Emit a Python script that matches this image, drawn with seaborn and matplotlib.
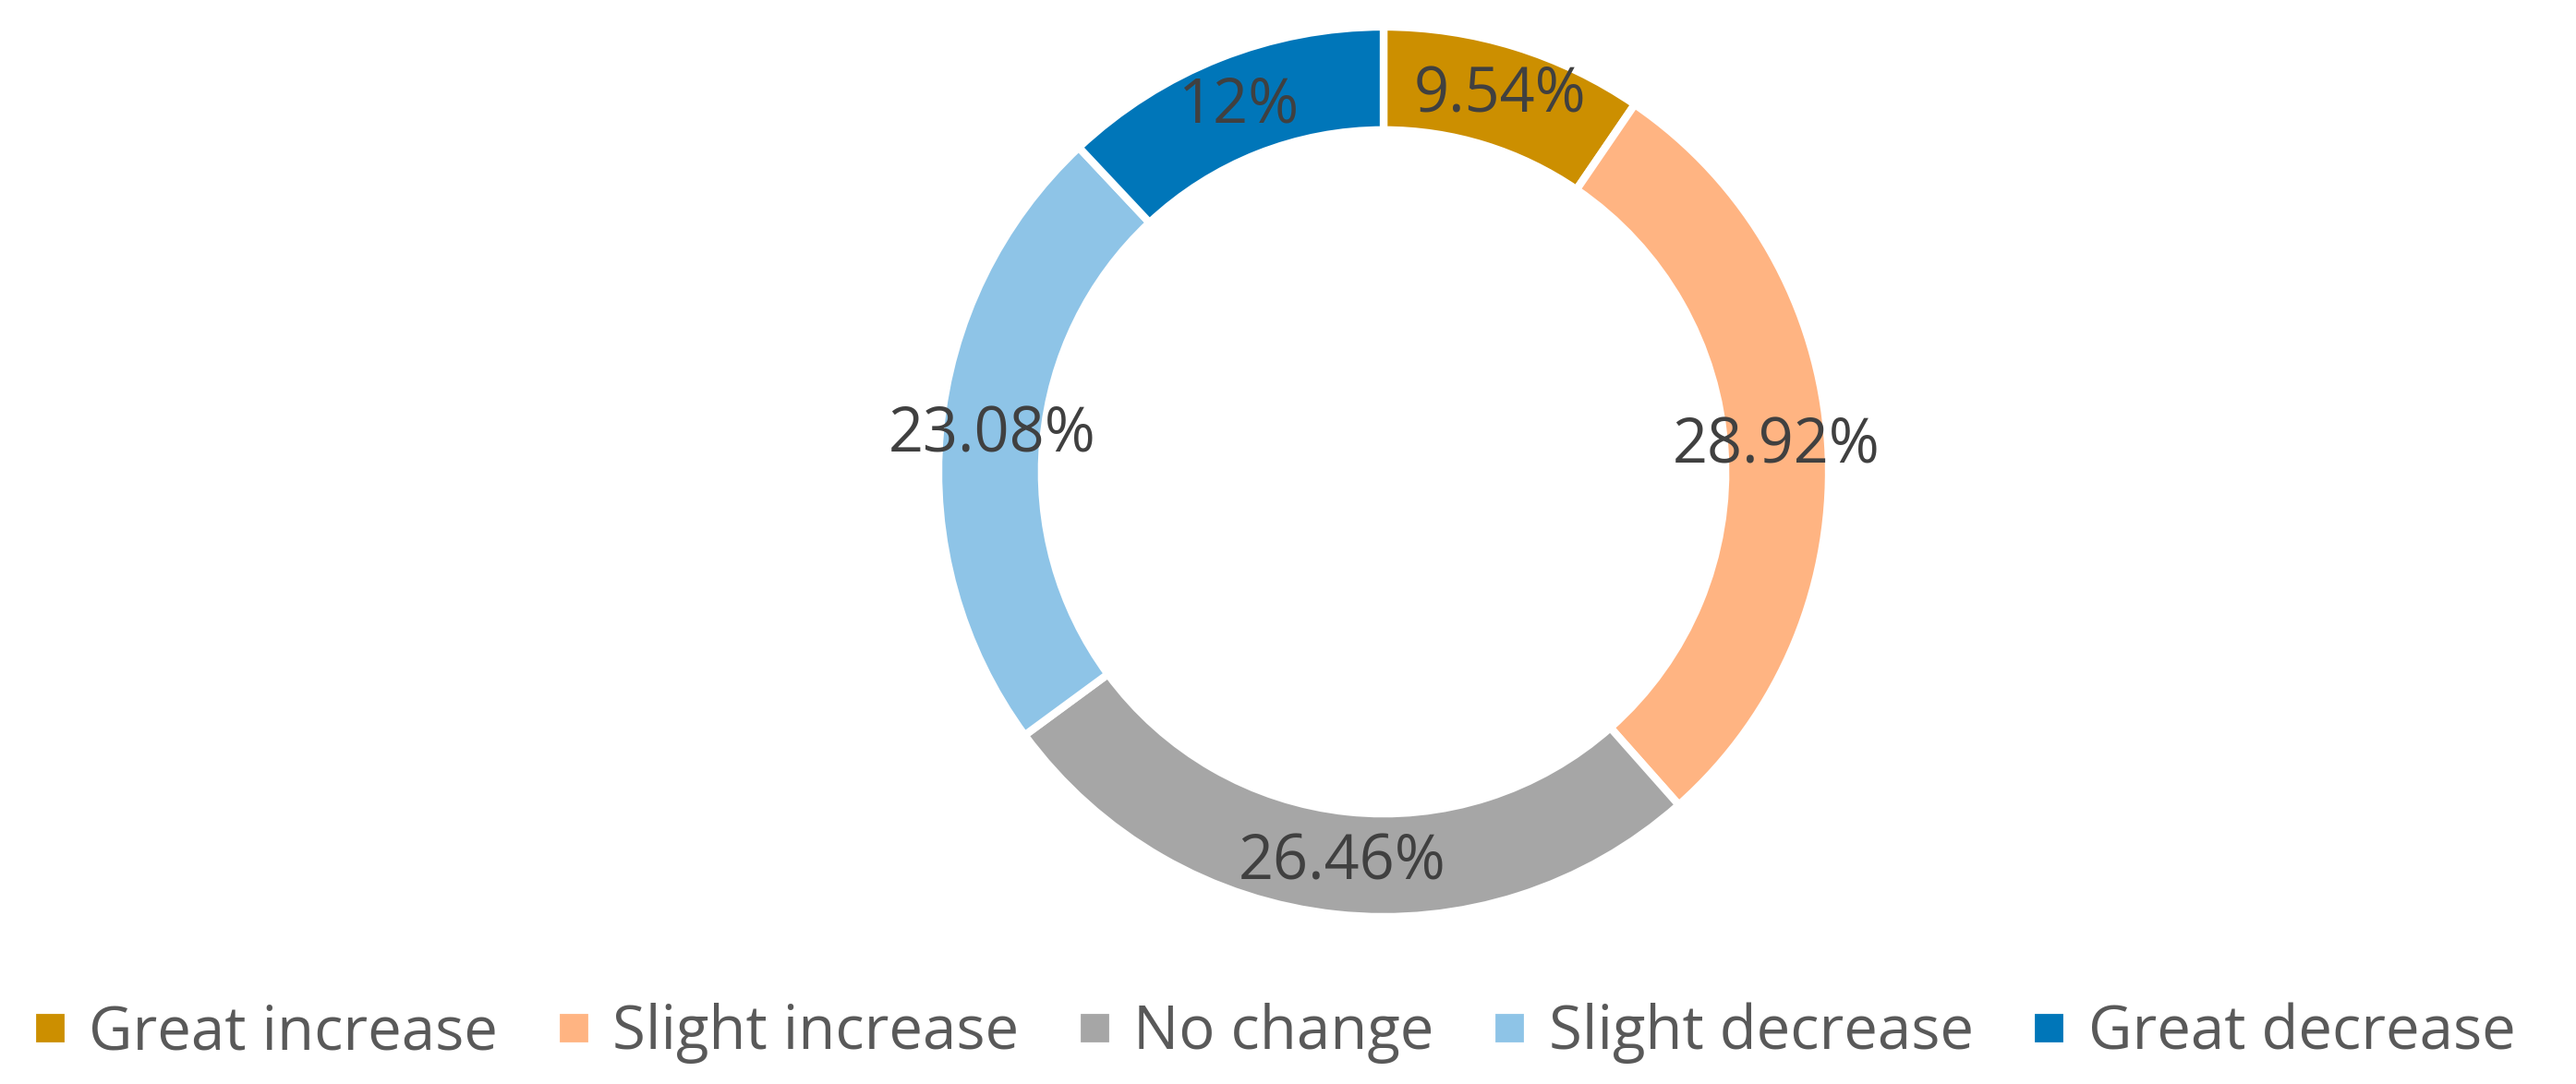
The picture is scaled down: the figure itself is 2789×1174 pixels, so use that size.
import matplotlib
matplotlib.use('Agg')
import numpy as np
import matplotlib.pyplot as plt
from matplotlib.lines import Line2D
import seaborn as sns

sns.set_theme(style='white')
plt.rcParams['font.family'] = ['Open Sans', 'DejaVu Sans']

# data
cats = ['Great increase', 'Slight increase', 'No change', 'Slight decrease', 'Great decrease']
vals = [9.54, 28.92, 26.46, 23.08, 12]
pct_labels = ['9.54%', '28.92%', '26.46%', '23.08%', '12%']
cols = sns.color_palette(['#CC8F00', '#FFB482', '#A6A6A6', '#8EC4E7', '#0076B9'])

W, H, DPI = 2789, 1174, 200
fig = plt.figure(figsize=(W / DPI, H / DPI), dpi=DPI)

# donut: centre (1498, 511) px, radius 482 px
cx, cy, r = 1498, 511, 482
ax = fig.add_axes([(cx - r) / W, (H - cy - r) / H, 2 * r / W, 2 * r / H])
wedges, _ = ax.pie(vals, colors=cols, startangle=90, counterclock=False,
                   radius=1, wedgeprops=dict(width=0.232, edgecolor='white', linewidth=3))

# percent labels in the middle of the ring
for w, lab in zip(wedges, pct_labels):
    ang = np.deg2rad((w.theta1 + w.theta2) / 2)
    ax.text(0.884 * np.cos(ang), 0.884 * np.sin(ang), lab, ha='center', va='center',
            fontsize=24, color='#404040')

ax.set_xlim(-1, 1)
ax.set_ylim(-1, 1)
ax.axis('off')

handles = [Line2D([], [], marker='s', linestyle='', markersize=10, color=c) for c in cols]
fig.legend(handles, cats, loc='center', bbox_to_anchor=(0.495, 0.047), ncol=5,
           frameon=False, fontsize=23.5, labelcolor='#595959',
           handlelength=0.5, handletextpad=0.4, columnspacing=1.0)

fig.savefig('out.png', dpi=DPI, facecolor='white')
